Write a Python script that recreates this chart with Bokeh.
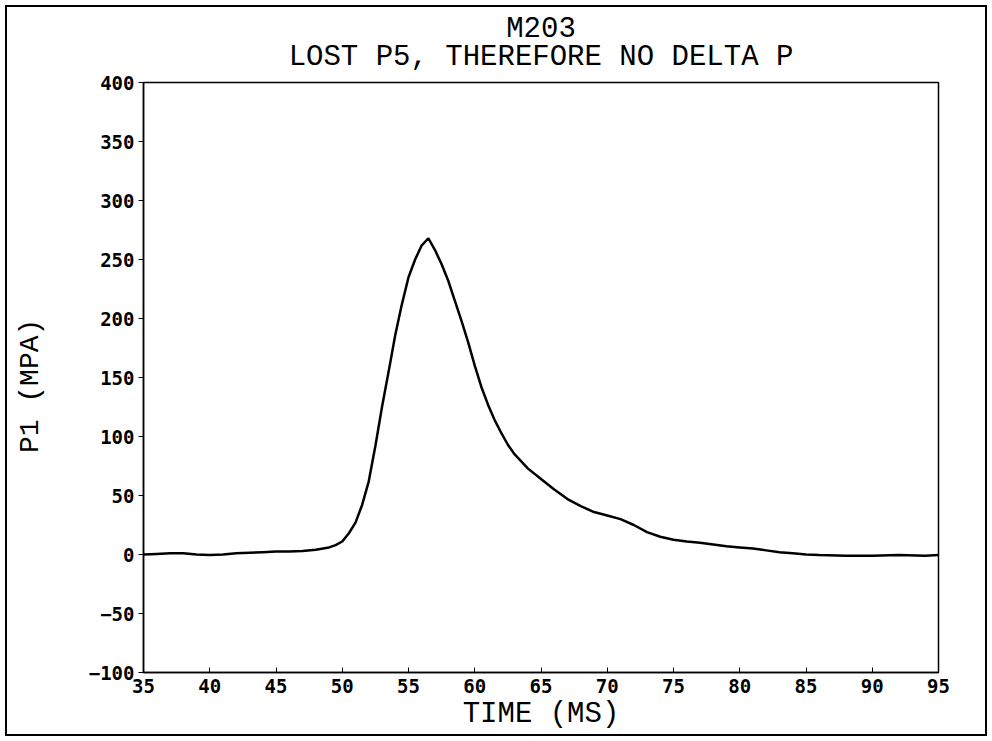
from bokeh.plotting import figure
from bokeh.models import FixedTicker, Title
from bokeh.embed import file_html
from bokeh.resources import INLINE

# ---- data ----
time_ms = [35, 36, 37, 38, 39, 40, 41, 42, 43, 44, 45, 46, 47, 48, 49, 49.5,
           50, 50.5, 51, 51.5, 52, 52.5, 53, 53.5, 54, 54.5, 55, 55.5, 56, 56.5,
           57, 57.5, 58, 58.5, 59, 59.5, 60, 60.5, 61, 61.5, 62, 62.5, 63, 64,
           65, 66, 67, 68, 69, 70, 71, 72, 73, 74, 75, 76, 77, 78, 79, 80, 81,
           82, 83, 84, 85, 86, 88, 90, 92, 94, 95]
p1_mpa = [0, 0.5, 1, 1, 0, -0.5, 0, 1, 1.5, 2, 2.5, 2.5, 3, 4, 6, 8,
          11, 18, 27, 42, 62, 92, 125, 155, 186, 212, 235, 250, 262, 268,
          258, 246, 232, 215, 198, 180, 160, 142, 127, 114, 103, 93, 85, 73,
          64, 55, 47, 41, 36, 33, 30, 25, 19, 15, 12.5, 11, 10, 8.5, 7, 6, 5,
          3.5, 2, 1, 0, -0.5, -1, -1, -0.5, -1, -0.5]

x_ticks = [35, 40, 45, 50, 55, 60, 65, 70, 75, 80, 85, 90, 95]
y_ticks = [-100, -50, 0, 50, 100, 150, 200, 250, 300, 350, 400]

title_line1 = "M203"
title_line2 = "LOST P5, THEREFORE NO DELTA P"
x_label = "TIME (MS)"
y_label = "P1  (MPA)"

TICKFONT = "DejaVu Sans Mono"
TEXTFONT = "Liberation Mono"

p = figure(width=992, height=741, output_backend="svg", toolbar_location=None,
           x_range=(35, 95), y_range=(-100, 400),
           min_border_left=143, min_border_right=54,
           min_border_top=82, min_border_bottom=69,
           background_fill_color="white", border_fill_color="white",
           border_fill_alpha=0.0)
p.title.visible = False

# outer page frame (CSS outline drawn inside the page, visible through the
# transparent border area of the canvas)
p.styles = {"outline": "2px solid black",
            "outline-offset": "-7px",
            "background-color": "white"}

# two-line title as one multi-line title
title = Title(text=title_line1 + "\n" + title_line2, align="center",
              text_font=TEXTFONT, text_font_size="29px",
              text_font_style="normal", text_color="black",
              text_line_height=0.85, standoff=16, offset=0)
try:
    title.text_align = "center"
except Exception:
    pass
p.add_layout(title, "above")

p.line(time_ms, p1_mpa, line_color="black", line_width=2.5)

p.xgrid.visible = False
p.ygrid.visible = False
p.outline_line_color = "black"
p.outline_line_width = 1.5
p.outline_line_alpha = 1.0

xa = p.xaxis[0]
xa.ticker = FixedTicker(ticks=x_ticks)
xa.major_tick_in = 5
xa.major_tick_out = 0
xa.minor_tick_line_color = None
xa.axis_line_color = "black"
xa.axis_line_width = 1.5
xa.major_label_text_font = TICKFONT
xa.major_label_text_font_size = "19px"
xa.major_label_text_font_style = "bold"
xa.major_label_text_color = "black"
xa.major_label_standoff = 6
xa.axis_label = x_label
xa.axis_label_text_font = TEXTFONT
xa.axis_label_text_font_size = "29px"
xa.axis_label_text_font_style = "normal"
xa.axis_label_text_color = "black"
xa.axis_label_standoff = 2

ya = p.yaxis[0]
ya.ticker = FixedTicker(ticks=y_ticks)
ya.major_tick_in = 0
ya.major_tick_out = 5
ya.minor_tick_line_color = None
ya.axis_line_color = "black"
ya.axis_line_width = 1.5
ya.major_label_text_font = TICKFONT
ya.major_label_text_font_size = "19px"
ya.major_label_text_font_style = "bold"
ya.major_label_text_color = "black"
ya.major_label_standoff = 4
ya.axis_label = y_label
ya.axis_label_text_font = TEXTFONT
ya.axis_label_text_font_size = "28px"
ya.axis_label_text_font_style = "normal"
ya.axis_label_text_color = "black"
ya.axis_label_standoff = 40

open("out.html", "w").write(file_html(p, INLINE))
